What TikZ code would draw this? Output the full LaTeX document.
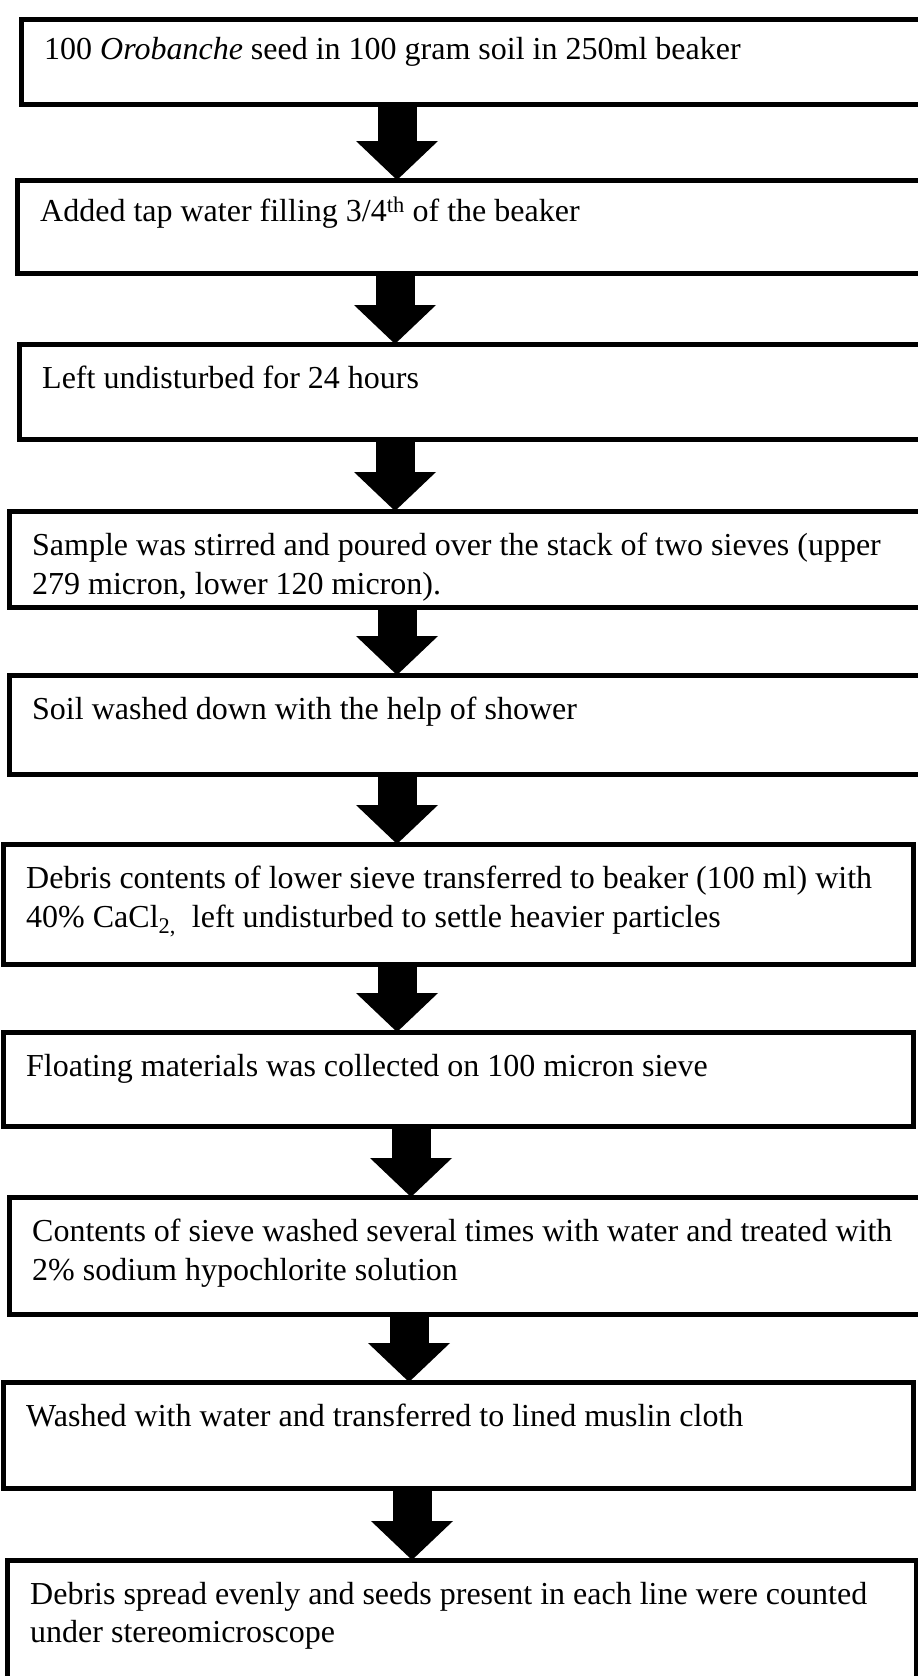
\documentclass[tikz,border=0pt]{standalone}
\usepackage{fontspec}
\setmainfont{Liberation Serif}
\usetikzlibrary{arrows.meta}

\tikzset{
  stepbox/.style={draw, line width=5pt, anchor=north west, inner sep=0pt, outer sep=0pt},
  steptext/.style={anchor=north west, inner sep=0pt, align=left,
    font=\fontsize{32}{38.5}\selectfont},
  flowarrow/.style={line width=39pt, -{Triangle[width=82pt,length=39pt,line width=0pt]}}
}

\begin{document}
\begin{tikzpicture}[x=1pt,y=-1pt]
 \useasboundingbox (0,0) rectangle (918,1676);
 \clip (0,0) rectangle (918,1676);
 % boxes
 \node[stepbox, minimum width=940pt, minimum height=85pt] (b1) at (21,19) {};
 \node[stepbox, minimum width=940pt, minimum height=93pt] (b2) at (17,180) {};
 \node[stepbox, minimum width=940pt, minimum height=95pt] (b3) at (19,344) {};
 \node[stepbox, minimum width=940pt, minimum height=96pt] (b4) at (9,511) {};
 \node[stepbox, minimum width=940pt, minimum height=99pt] (b5) at (9,675) {};
 \node[stepbox, minimum width=910pt, minimum height=120pt] (b6) at (3,844) {};
 \node[stepbox, minimum width=910pt, minimum height=94pt] (b7) at (3,1032) {};
 \node[stepbox, minimum width=940pt, minimum height=117pt] (b8) at (9,1197) {};
 \node[stepbox, minimum width=910pt, minimum height=106pt] (b9) at (3,1382) {};
 \node[stepbox, minimum width=909pt, minimum height=200pt] (b10) at (7,1560) {};
 % texts
 \node[steptext] (t1) at ([shift={(23,18)}]b1.north west) {100 \textit{Orobanche} seed in 100 gram soil in 250ml beaker};
 \node[steptext] (t2) at ([shift={(23,17)}]b2.north west) {Added tap water filling 3/4\textsuperscript{th} of the beaker};
 \node[steptext] (t3) at ([shift={(23,22)}]b3.north west) {Left undisturbed for 24 hours};
 \node[steptext] (t4) at ([shift={(23,22)}]b4.north west) {Sample was stirred and poured over the stack of two sieves (upper\\279 micron, lower 120 micron).};
 \node[steptext] (t5) at ([shift={(23,22)}]b5.north west) {Soil washed down with the help of shower};
 \node[steptext] (t6) at ([shift={(23,22)}]b6.north west) {Debris contents of lower sieve transferred to beaker (100 ml) with\\40\% CaCl\textsubscript{2,}\ \ left undisturbed to settle heavier particles};
 \node[steptext] (t7) at ([shift={(23,22)}]b7.north west) {Floating materials was collected on 100 micron sieve};
 \node[steptext] (t8) at ([shift={(23,22)}]b8.north west) {Contents of sieve washed several times with water and treated with\\2\% sodium hypochlorite solution};
 \node[steptext] (t9) at ([shift={(23,22)}]b9.north west) {Washed with water and transferred to lined muslin cloth};
 \node[steptext] (t10) at ([shift={(23,22)}]b10.north west) {Debris spread evenly and seeds present in each line were counted\\under stereomicroscope};
 % arrows
 \draw[flowarrow] (397,0 |- b1.south) -- (397,0 |- b2.north);
 \draw[flowarrow] (395,0 |- b2.south) -- (395,0 |- b3.north);
 \draw[flowarrow] (395,0 |- b3.south) -- (395,0 |- b4.north);
 \draw[flowarrow] (397,0 |- b4.south) -- (397,0 |- b5.north);
 \draw[flowarrow] (397,0 |- b5.south) -- (397,0 |- b6.north);
 \draw[flowarrow] (397,0 |- b6.south) -- (397,0 |- b7.north);
 \draw[flowarrow] (411,0 |- b7.south) -- (411,0 |- b8.north);
 \draw[flowarrow] (409,0 |- b8.south) -- (409,0 |- b9.north);
 \draw[flowarrow] (412,0 |- b9.south) -- (412,0 |- b10.north);
\end{tikzpicture}
\end{document}
